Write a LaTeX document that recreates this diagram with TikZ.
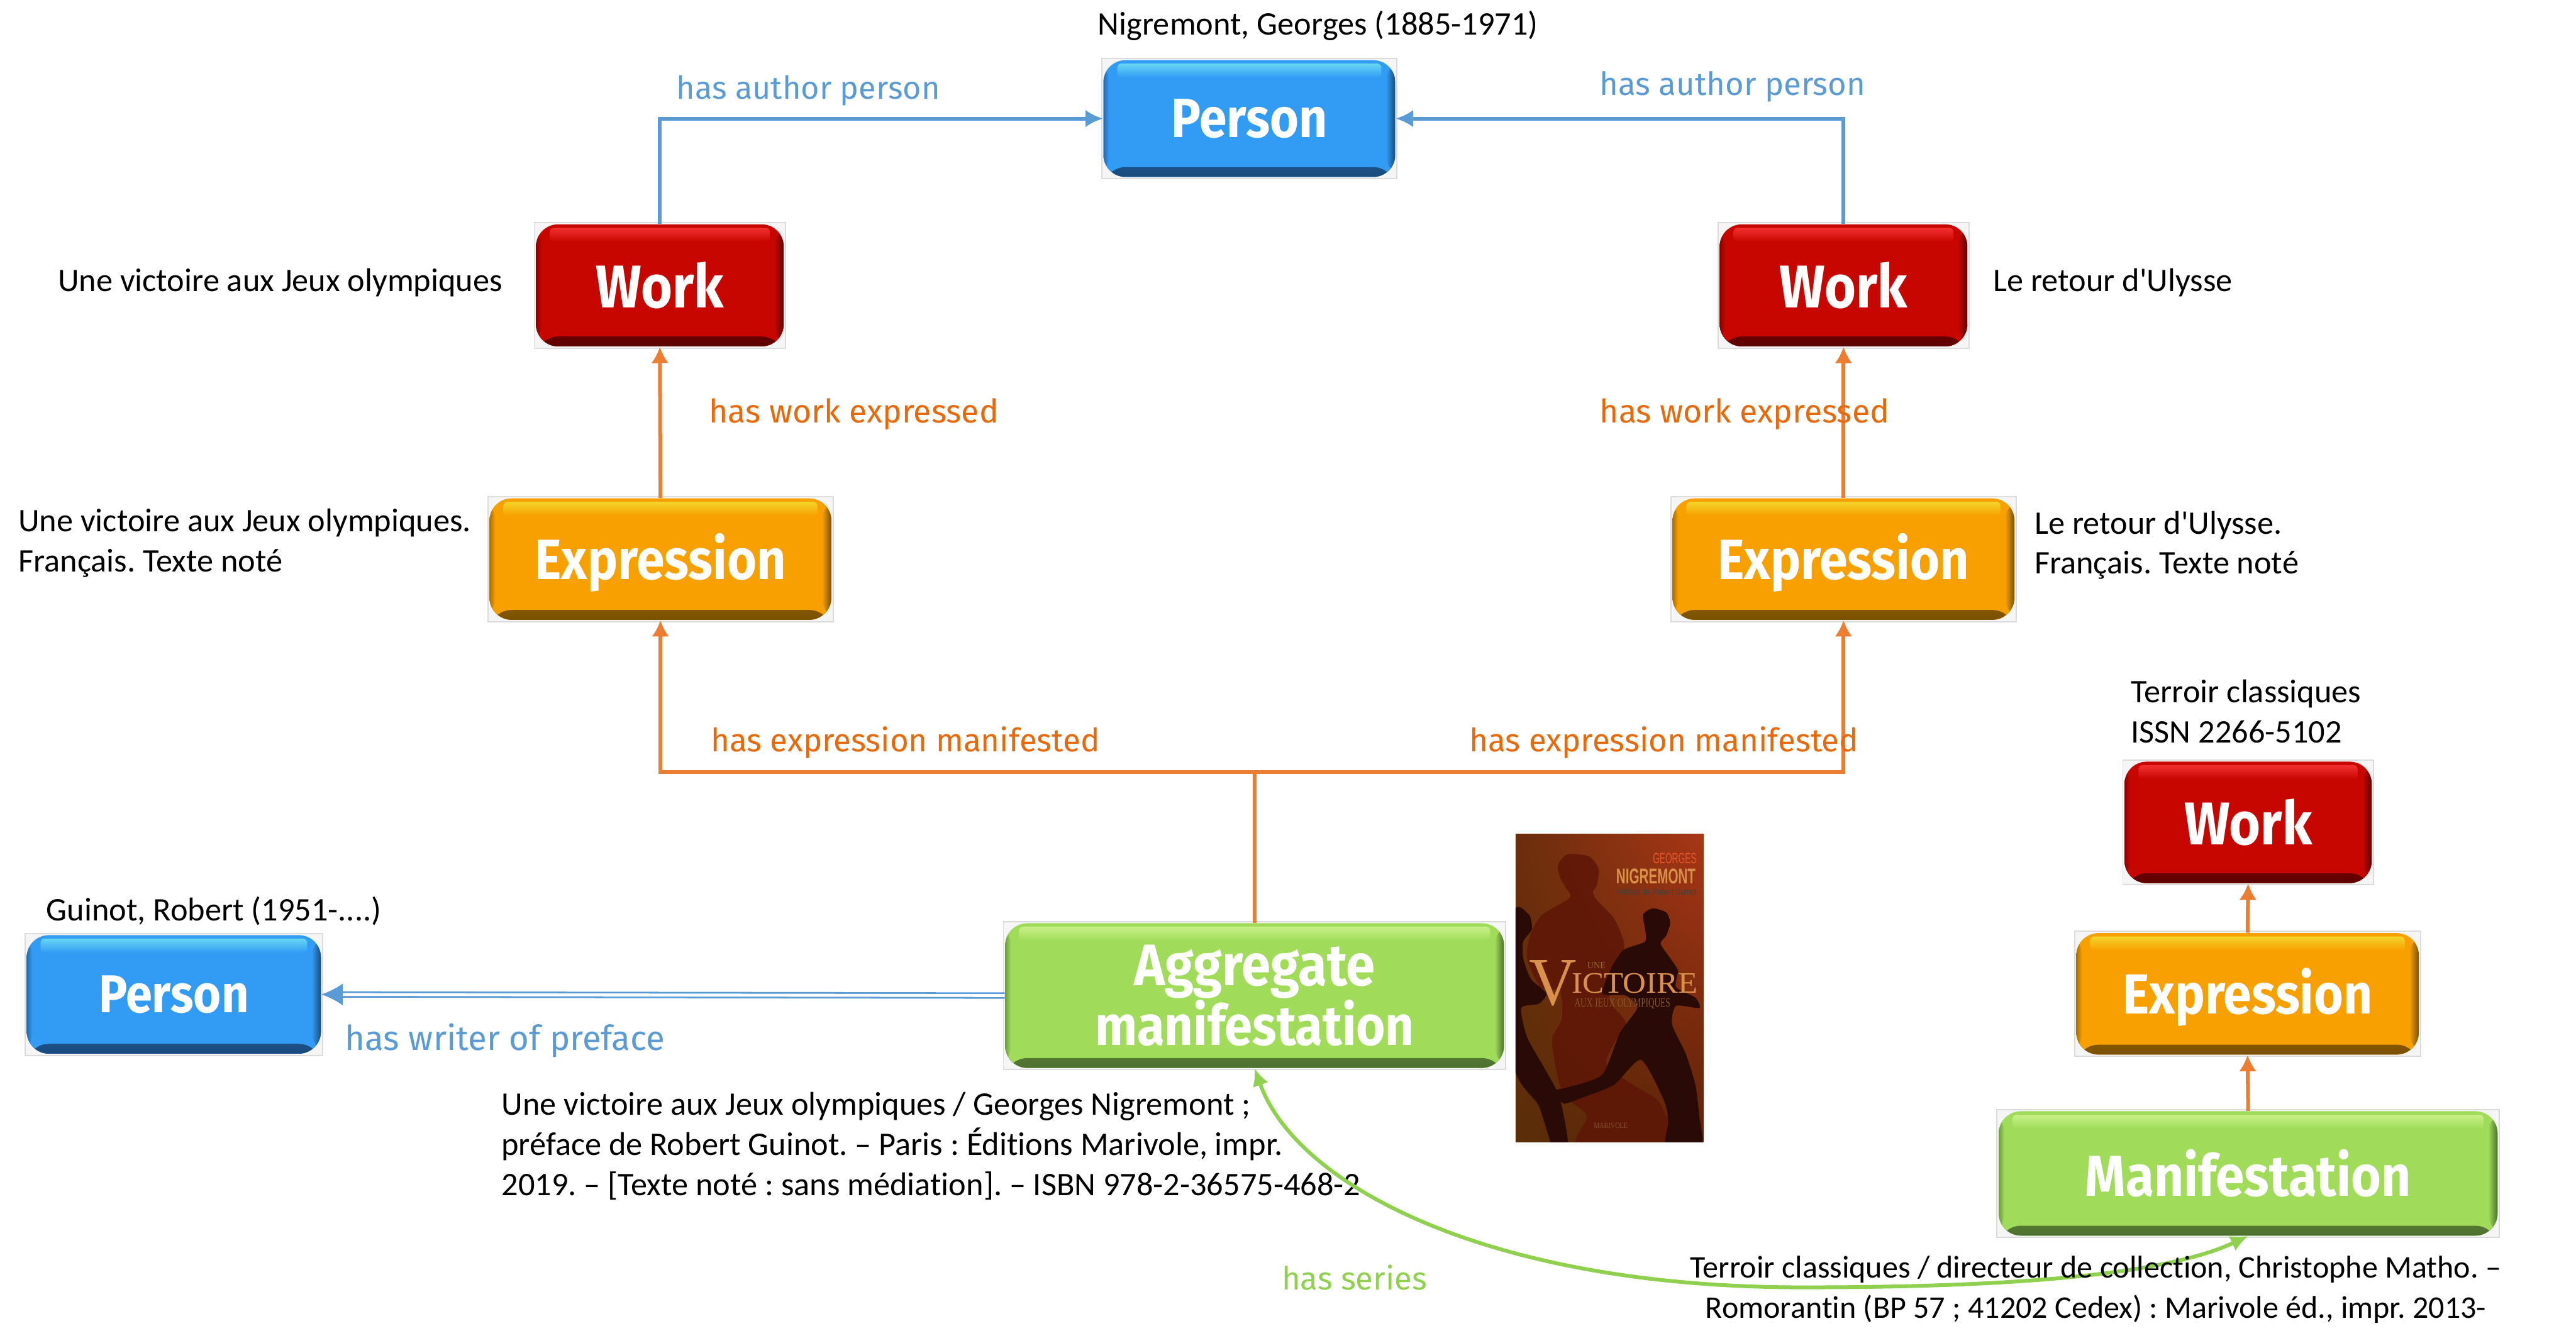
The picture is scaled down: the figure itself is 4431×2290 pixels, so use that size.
\documentclass[tikz,border=0pt]{standalone}
\usepackage{fontspec}
\usepackage{graphicx}
\usetikzlibrary{arrows.meta,calc,shadings}
\setmainfont{Carlito}
\newfontfamily\bodyfont[Ligatures={NoCommon,NoContextual}]{Carlito}
\newfontfamily\comic{Fira Sans}
\newfontfamily\coversans{Liberation Sans}
\newfontfamily\coverserif{Liberation Serif}
\definecolor{lblue}{HTML}{5B9BD5}
\definecolor{lorange}{HTML}{ED7D31}
\definecolor{torange}{HTML}{E8690B}
\definecolor{lgreen}{HTML}{8FD14F}
\definecolor{redM}{HTML}{C80600}\definecolor{redH}{HTML}{F23030}\definecolor{redD}{HTML}{5E0000}
\definecolor{bluM}{HTML}{329CF5}\definecolor{bluH}{HTML}{66D6F2}\definecolor{bluD}{HTML}{1A4A7C}
\definecolor{orgM}{HTML}{F8A000}\definecolor{orgH}{HTML}{F4D428}\definecolor{orgD}{HTML}{7A5000}
\definecolor{grnM}{HTML}{A0DC5A}\definecolor{grnH}{HTML}{C8F088}\definecolor{grnD}{HTML}{4E7030}
\definecolor{cvUL}{HTML}{6A2E0C}\definecolor{cvUR}{HTML}{A83616}\definecolor{cvLL}{HTML}{5A2E08}\definecolor{cvLR}{HTML}{5E2208}
\definecolor{covtxt}{HTML}{D8904A}
\definecolor{cvBig}{HTML}{5E1606}\definecolor{cvDark}{HTML}{2A0A06}
\newlength\pxu \setlength\pxu{0.01cm}
\newlength\cvu \setlength\cvu{0.00333cm}
\newlength\cvv \setlength\cvv{0.00357cm}
\newcommand{\fitw}[2]{\resizebox{#1\pxu}{!}{#2}}
\newcommand{\fitwb}[2]{\scalebox{1}[1.12]{\resizebox{#1\pxu}{!}{\comic\bfseries #2}}}
\newcommand{\lowered}[1]{\raisebox{0pt}[\dimexpr\height+0.12cm\relax]{#1}}
% name, cx, cy, w, h, colour prefix, label
\newcommand{\bevelbox}[7]{%
  \node[frameline,minimum width=(#4+6)*0.01cm,minimum height=(#5+6)*0.01cm] (#1-frame) at (#2,#3) {};
  \node[bevel={#6M}{#6H}{#6D},minimum width=#4*0.01cm,minimum height=#5*0.01cm] (#1) at (#2,#3) {#7};
}
\newcommand{\cvr}[6]{\node[inner sep=0,text=#5] at ({#1},{#2}) {\resizebox{#3\cvu}{#4\cvv}{#6}};}
\tikzset{
  frameline/.style={draw=black!14,fill=black!4,line width=0.02cm,inner sep=0pt,rectangle},
  bevel/.style n args={3}{rectangle,rounded corners=0.38cm,fill=#1,inner sep=0pt,text=white,align=center,
    path picture={
      \shade[top color=#1,bottom color=#3] ([yshift=0.17cm]path picture bounding box.south west) rectangle (path picture bounding box.south east);
      \shade[left color=#1,right color=#3] ([xshift=-0.16cm]path picture bounding box.south east) rectangle (path picture bounding box.north east);
      \shade[left color=#3!60!#1,right color=#1] (path picture bounding box.south west) rectangle ([xshift=0.1cm]path picture bounding box.north west);
      \shade[top color=#2,bottom color=#1,rounded corners=0.06cm] ([xshift=0.24cm,yshift=-0.06cm]path picture bounding box.north west) rectangle ([xshift=-0.24cm,yshift=-0.3cm]path picture bounding box.north east);
    }},
  bodytext/.style={font=\bodyfont\fontsize{16.1}{19.6}\selectfont\frenchspacing,inner sep=0pt,text=black},
  lbl/.style={inner sep=0pt,anchor=base west},
  bluelbl/.style={lbl,text=lblue},
  orglbl/.style={lbl,text=torange},
  grnlbl/.style={lbl,text=lgreen},
  conn/.style={line width=0.065cm,-{Latex[length=0.28cm,width=0.3cm]}},
  bluecon/.style={conn,draw=lblue,-{Latex[length=0.3cm,width=0.3cm]}},
  orgcon/.style={conn,draw=lorange},
}
\begin{document}
\begin{tikzpicture}[x=0.01cm,y=-0.01cm]
\useasboundingbox[fill=white] (0,0) rectangle (4431,2290);

% boxes
\bevelbox{personT}{2149}{204}{502}{201}{blu}{\fitwb{268}{Person}}
\bevelbox{workL}{1135}{491}{426}{210}{red}{\fitwb{220}{Work}}
\bevelbox{workR}{3171}{491}{426}{210}{red}{\fitwb{220}{Work}}
\bevelbox{expL}{1136}{962}{588}{209}{org}{\lowered{\fitwb{432}{Expression}}}
\bevelbox{expR}{3171}{962}{588}{209}{org}{\lowered{\fitwb{432}{Expression}}}
\bevelbox{agg}{2158}{1713}{858}{249}{grn}{\fitwb{415}{Aggregate}\\[-0.02cm]\fitwb{549}{manifestation}}
\bevelbox{personL}{299}{1711}{506}{204}{blu}{\fitwb{258}{Person}}
\bevelbox{workS}{3867}{1415}{425}{209}{red}{\fitwb{220}{Work}}
\bevelbox{expS}{3866}{1710}{589}{209}{org}{\lowered{\fitwb{430}{Expression}}}
\bevelbox{man}{3867}{2019}{858}{214}{grn}{\fitwb{560}{Manifestation}}

% book cover
\begin{scope}
  \clip (2607,1435) rectangle (2930,1965);
  \shade[upper left=cvUL,upper right=cvUR,lower left=cvLL,lower right=cvLR]
     (2607,1435) rectangle (2930,1965);
  \begin{scope}[shift={(2590,1420)},x=0.00333cm,y=-0.00357cm]
    \fill[cvBig,opacity=.85] plot[smooth cycle,tension=.45] coordinates {(270,190)(320,140)(430,150)(480,210)(470,290)(450,320)(470,360)(560,450)(610,560)(600,650)(540,700)(540,850)(620,950)(560,1050)(520,1150)(640,1240)(780,1320)(830,1400)(900,1430)(900,1540)(380,1540)(420,1400)(300,1300)(260,1170)(240,1030)(290,930)(280,800)(180,780)(110,640)(130,520)(190,430)(330,350)(310,300)(280,250)};
    \fill[cvDark] plot[smooth cycle,tension=.4] coordinates {(710,430)(760,400)(830,420)(850,470)(830,530)(800,570)(850,640)(890,700)(880,780)(980,830)(1000,880)(880,870)(860,960)(930,1100)(980,1250)(1000,1400)(1010,1540)(830,1540)(840,1430)(820,1330)(700,1130)(560,1250)(400,1310)(300,1340)(250,1280)(330,1260)(500,1200)(590,1000)(680,880)(620,820)(500,810)(550,680)(610,600)(720,560)(720,500)};
    \fill[cvDark] plot[smooth cycle,tension=.4] coordinates {(40,430)(120,430)(135,500)(90,560)(90,640)(130,740)(210,810)(170,860)(80,880)(110,1020)(200,1170)(270,1290)(300,1400)(320,1540)(240,1540)(170,1350)(40,1150)};
  \end{scope}
  \cvr{2590+872/3}{1420+160/2.8}{225}{50}{red!40!covtxt}{\coversans GEORGES}
  \cvr{2590+775/3}{1420+245/2.8}{410}{72}{covtxt}{\coversans\bfseries NIGREMONT}
  \cvr{2590+777/3}{1420+322/2.8}{415}{30}{black!75}{\coversans Préface de Robert Guinot}
  \cvr{2590+242/3}{1420+762/2.8}{245}{215}{covtxt}{\coverserif V}
  \cvr{2590+665/3}{1420+762/2.8}{650}{95}{covtxt}{\coverserif ICTOIRE}
  \cvr{2590+468/3}{1420+675/2.8}{95}{30}{covtxt!70!black}{\coverserif UNE}
  \cvr{2590+602/3}{1420+860/2.8}{495}{40}{covtxt!60!black}{\coverserif AUX JEUX OLYMPIQUES}
  \cvr{2590+542/3}{1420+1447/2.8}{175}{25}{covtxt!60!black}{\coverserif MARIVOLE}
\end{scope}

% connectors
\coordinate (J) at (2158,1328);
\draw[bluecon] (workL.north) |- (personT.west);
\draw[bluecon] (workR.north) |- (personT.east);
\draw[orgcon] (expL.north) -- (workL.south);
\draw[orgcon] (expR.north) -- (workR.south);
\draw[lorange,line width=0.065cm] (agg.north) -- (J);
\draw[orgcon] (J) -| (expL.south);
\draw[orgcon] (J) -| (expR.south);
\draw[orgcon] (expS.north) -- (workS.south);
\draw[orgcon] (man.north) -- (expS.south);
\draw[lblue,line width=0.03cm,double=white,double distance=0.05cm,-{Latex[length=0.37cm,width=0.38cm]}] (agg.west) -- (personL.east);

% texts under the series curve
\node[bodytext,anchor=west] (tA) at (1888,44) {Nigremont, Georges (1885-1971)};
\node[bodytext,anchor=west] (tB) at (99,486) {Une victoire aux Jeux olympiques};
\node[bodytext,anchor=west] (tC) at (3428,486) {Le retour d'Ulysse};
\node[bodytext,anchor=west,align=left] (tD) at (31,934) {Une victoire aux Jeux olympiques.\\Français. Texte noté};
\node[bodytext,anchor=west,align=left] (tE) at (3499,938) {Le retour d'Ulysse.\\Français. Texte noté};
\node[bodytext,anchor=west,align=left] (tF) at (3665,1224) {Terroir classiques\\ISSN 2266-5102};
\node[bodytext,anchor=west] (tG) at (79,1568) {Guinot, Robert (1951-....)};
\node[bodytext,anchor=west,align=left] (tH) at (862,1972) {Une victoire aux Jeux olympiques / Georges Nigremont ;\\préface de Robert Guinot. – Paris : Éditions Marivole, impr.\\2019. – [Texte noté : sans médiation]. – ISBN 978-2-36575-468-2};

% series curve
\coordinate (gm) at (3100,2215);
\draw[lgreen,line width=0.065cm,{Latex[length=0.3cm,width=0.28cm]}-{Latex[length=0.3cm,width=0.28cm]}]
  (agg.south) .. controls (2230,2040) and (2560,2215) .. (gm) .. controls (3450,2215) and (3720,2195) .. (man.south);
\node[bodytext,font=\bodyfont\fontsize{15.4}{19.6}\selectfont\frenchspacing,anchor=center,align=center] (tI) at (3605,2219) {Terroir classiques / directeur de collection, Christophe Matho. –\\Romorantin (BP 57 ; 41202 Cedex) : Marivole éd., impr. 2013-};

% relation labels
\node[bluelbl] (l1) at (1163,170) {\fitw{453}{\comic has author person}};
\node[bluelbl] (l2) at (2751,164) {\fitw{457}{\comic has author person}};
\node[orglbl] (l3) at (1219,727) {\fitw{498}{\comic has work expressed}};
\node[orglbl] (l4) at (2751,727) {\fitw{498}{\comic has work expressed}};
\node[orglbl] (l5) at (1222,1293) {\fitw{669}{\comic has expression manifested}};
\node[orglbl] (l6) at (2527,1293) {\fitw{669}{\comic has expression manifested}};
\node[bluelbl] (l7) at (593,1807) {\fitw{550}{\comic has writer of preface}};
\node[grnlbl] (l8) at (2204,2219) {\fitw{250}{\comic has series}};
\end{tikzpicture}
\end{document}
